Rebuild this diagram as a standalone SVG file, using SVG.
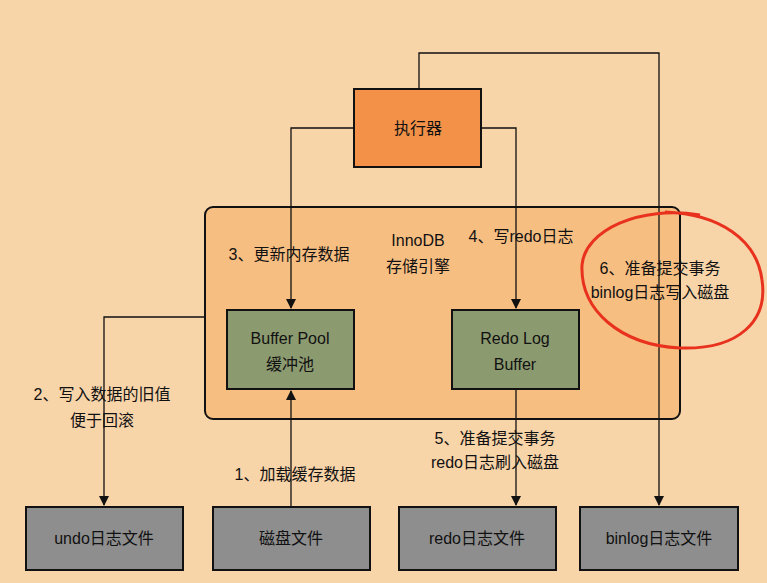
<svg xmlns="http://www.w3.org/2000/svg" width="767" height="583" viewBox="0 0 767 583">
<style>
text{font-family:"Liberation Sans","Noto Sans CJK SC",sans-serif;font-size:16px;fill:#111;text-anchor:middle;dominant-baseline:central}
.box{stroke:#111;stroke-width:2}
.green{fill:#8C9A70}
.grey{fill:#8E8E8E}
.ln{fill:none;stroke:#111;stroke-width:1.3}
</style>
<defs><marker id="a" markerWidth="10" markerHeight="10" refX="9" refY="5" orient="auto" markerUnits="userSpaceOnUse"><path d="M0,0 L10,5 L0,10 Z" fill="#111"/></marker></defs>
<rect width="767" height="583" fill="#F8D4A9"/>
<g id="innodb"><rect x="205" y="207" width="475" height="212" rx="8" class="box" fill="#F7BE82"/><text x="418" y="240">InnoDB</text><text x="418" y="266">存储引擎</text></g>
<g id="connectors">
<path class="ln" d="M419,89 V53 H659 V505" marker-end="url(#a)"/>
<path class="ln" d="M354,128 H291 V308" marker-end="url(#a)"/>
<path class="ln" d="M481,128 H516 V308" marker-end="url(#a)"/>
<path class="ln" d="M205,317 H104 V505" marker-end="url(#a)"/>
<path class="ln" d="M291,507 V391" marker-end="url(#a)"/>
<path class="ln" d="M516,389 V505" marker-end="url(#a)"/>
</g>
<g id="executor"><rect x="354" y="89" width="127" height="78" class="box" fill="#F39148"/><text x="418" y="128">执行器</text></g>
<g id="bufferpool"><rect x="227" y="310" width="127" height="79" class="box green"/><text x="290" y="338">Buffer Pool</text><text x="290" y="364">缓冲池</text></g>
<g id="redobuf"><rect x="452" y="310" width="127" height="79" class="box green"/><text x="515" y="338">Redo Log</text><text x="515" y="364">Buffer</text></g>
<g id="undo"><rect x="26" y="507" width="157" height="63" class="box grey"/><text x="104" y="538">undo日志文件</text></g>
<g id="disk"><rect x="213" y="507" width="157" height="63" class="box grey"/><text x="291" y="538">磁盘文件</text></g>
<g id="redofile"><rect x="399" y="507" width="157" height="63" class="box grey"/><text x="477" y="538">redo日志文件</text></g>
<g id="binlog"><rect x="580" y="507" width="158" height="63" class="box grey"/><text x="659" y="538">binlog日志文件</text></g>
<g id="labels">
<text x="289" y="254">3、更新内存数据</text>
<text x="521" y="236">4、写redo日志</text>
<text x="660" y="268">6、准备提交事务</text>
<text x="660" y="292">binlog日志写入磁盘</text>
<text x="102" y="394">2、写入数据的旧值</text>
<text x="102" y="420">便于回滚</text>
<text x="295" y="474">1、加载缓存数据</text>
<text x="495" y="438">5、准备提交事务</text>
<text x="495" y="462">redo日志刷入磁盘</text>
</g>
<path d="M700,215 C640,205 585,230 582,265 C580,310 620,345 680,348 C740,350 768,320 762,280 C757,240 720,214 665,212" fill="none" stroke="#E8321E" stroke-width="3"/>
</svg>
